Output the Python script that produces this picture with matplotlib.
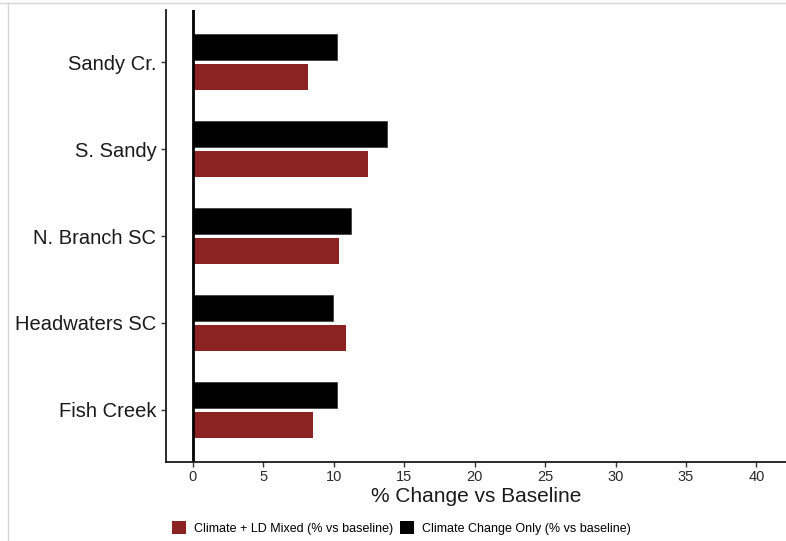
import matplotlib
matplotlib.use("Agg")
import matplotlib.pyplot as plt
import numpy as np
from matplotlib.lines import Line2D
from matplotlib.patches import Patch

plt.rcParams["font.family"] = ["Liberation Sans", "DejaVu Sans"]

# sites listed bottom-to-top as they appear on the y axis
sites = ["Fish Creek", "Headwaters SC", "N. Branch SC", "S. Sandy", "Sandy Cr."]
climate_only = [10.2, 9.95, 11.25, 13.75, 10.2]
climate_ld_mixed = [8.55, 10.85, 10.35, 12.45, 8.15]

series_labels = ["Climate + LD Mixed (% vs baseline)", "Climate Change Only (% vs baseline)"]
red = "#8B2323"

fig = plt.figure(figsize=(7.86, 5.41), dpi=100)
ax = fig.add_axes([166 / 786, 79 / 541, 620 / 786, 452 / 541])

y = np.arange(len(sites))
bar_h = 0.30
off = 0.172
ax.barh(y + off, climate_only, height=bar_h, color="black", edgecolor="#333333", linewidth=0.5)
ax.barh(y - off, climate_ld_mixed, height=bar_h, color=red, linewidth=0)
ax.axvline(0, color="black", linewidth=2.0)

ax.set_xlim(-1.9, 42.1)
ax.set_ylim(-0.6, 4.6)
ax.set_xticks(np.arange(0, 45, 5))
ax.set_yticks(y)
ax.set_yticklabels(sites, fontsize=14.5, color="#1a1a1a")
ax.tick_params(axis="x", labelsize=10.5, labelcolor="#2b2b2b", pad=2.5)
ax.tick_params(axis="y", pad=3.5)
ax.tick_params(length=3.5, width=1.0, color="#333333")
ax.set_xlabel("% Change vs Baseline", fontsize=15, color="#1a1a1a", labelpad=2)

for side in ["top", "right"]:
    ax.spines[side].set_visible(False)
for side in ["left", "bottom"]:
    ax.spines[side].set_linewidth(1.3)
    ax.spines[side].set_color("#1a1a1a")

handles = [Patch(facecolor=red, edgecolor="none"), Patch(facecolor="black", edgecolor="none")]
fig.legend(handles, series_labels, loc="center", bbox_to_anchor=(401.5 / 786, 13 / 541),
           ncol=2, frameon=False, fontsize=9, handlelength=1.12, handleheight=1.12,
           handletextpad=0.64, columnspacing=0.56, borderpad=0, borderaxespad=0)

# thin light frame along the top and left edges
fig.add_artist(Line2D([0, 1], [1 - 3 / 541] * 2, color="#d4d4d4", linewidth=1, transform=fig.transFigure))
fig.add_artist(Line2D([8 / 786] * 2, [0, 1 - 3 / 541], color="#d4d4d4", linewidth=1, transform=fig.transFigure))

fig.savefig("out.png", dpi=100)
